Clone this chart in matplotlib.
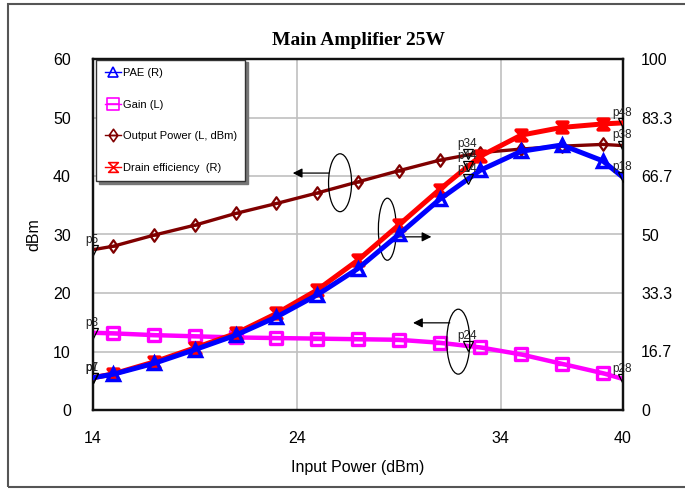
import matplotlib
matplotlib.use("Agg")
import matplotlib.pyplot as plt
from matplotlib.path import Path
from matplotlib.patches import Ellipse, Rectangle
from matplotlib.lines import Line2D

plt.rcParams['font.family'] = ['Liberation Sans', 'DejaVu Sans']

# ---- data ----
x_in = [14, 15, 17, 19, 21, 23, 25, 27, 29, 31, 33, 35, 37, 39, 40]
pout = [27.4, 28.0, 29.9, 31.6, 33.6, 35.3, 37.1, 39.0, 40.9, 42.7, 44.0, 44.6, 45.1, 45.4, 45.2]
gain = [13.2, 13.1, 12.8, 12.6, 12.4, 12.3, 12.2, 12.1, 12.0, 11.5, 10.7, 9.5, 7.9, 6.3, 5.3]
pae_pct = [9.2, 10.2, 13.3, 17.2, 21.3, 26.5, 32.8, 40.3, 50.0, 60.0, 68.3, 73.7, 75.5, 71.0, 66.3]
de_pct = [9.2, 10.3, 13.7, 17.7, 21.8, 27.5, 34.2, 42.7, 52.7, 62.8, 72.3, 78.3, 80.5, 81.5, 81.8]

mk_x = [14, 32.4, 40]
mk_pout = [27.4, 43.7, 45.2]
mk_gain = [13.2, 10.9, 5.3]
mk_pae = [9.2, 65.8, 66.3]
mk_de = [9.2, 69.5, 81.8]
lbl_pout = ["p5", "p34", "p38"]
lbl_gain = ["p3", "p24", "p28"]
lbl_pae = ["p7", "p14", "p18"]
lbl_de = ["p1", "p44", "p48"]

xticks = [14, 24, 34, 40]
yticks_l = [0, 10, 20, 30, 40, 50, 60]
yticks_r = [0, 16.7, 33.3, 50, 66.7, 83.3, 100]
yticklabels_r = ["0", "16.7", "33.3", "50", "66.7", "83.3", "100"]

# ---- custom markers ----
hourglass = Path([(-1, 1), (1, 1), (-1, -1), (1, -1), (-1, 1)],
                 [Path.MOVETO, Path.LINETO, Path.LINETO, Path.LINETO, Path.CLOSEPOLY])
sq_line = Path([(-1, -1), (1, -1), (1, 1), (-1, 1), (-1, -1), (-1, 0), (1, 0)],
               [Path.MOVETO, Path.LINETO, Path.LINETO, Path.LINETO, Path.CLOSEPOLY,
                Path.MOVETO, Path.LINETO])
dia_line = Path([(0, -1), (0.7, 0), (0, 1), (-0.7, 0), (0, -1), (-0.7, 0), (0.7, 0)],
                [Path.MOVETO, Path.LINETO, Path.LINETO, Path.LINETO, Path.CLOSEPOLY,
                 Path.MOVETO, Path.LINETO])

fig = plt.figure(figsize=(6.85, 4.9), dpi=100)
fig.add_artist(Rectangle((8 / 685, 3 / 490), 1.2, 483 / 490, transform=fig.transFigure,
                         fill=False, edgecolor='#555555', lw=1.5))

ax = fig.add_axes([93 / 685, 1 - 410 / 490, 530 / 685, 351 / 490])
ax2 = ax.twinx()

ax.set_xlim(14, 40)
ax.set_ylim(0, 60)
ax2.set_ylim(0, 100)
ax.set_xticks(xticks)
ax.set_yticks(yticks_l)
ax2.set_yticks(yticks_r)
ax2.set_yticklabels(yticklabels_r)
ax.grid(True, color='#c0c0c0', lw=1.2)
ax.set_axisbelow(True)
ax.tick_params(axis='both', length=0, labelsize=11.5)
ax.tick_params(axis='y', pad=16)
ax.tick_params(axis='x', pad=15)
ax2.tick_params(axis='y', length=0, labelsize=11.5, pad=13)
for a in (ax, ax2):
    for s in a.spines.values():
        s.set_color('#111111')
        s.set_linewidth(1.6)

ax.set_xlabel("Input Power (dBm)", fontsize=11.5, labelpad=10)
ax.set_ylabel("dBm", fontsize=11.5, labelpad=8)
ax.set_title("Main Amplifier 25W", fontsize=14, fontweight='bold',
             family='Liberation Serif', pad=10)

inner = slice(1, -1)
ax.plot(x_in, gain, color='#ff00ff', lw=3.2, marker=sq_line, ms=8.5, mew=2.4,
        mfc='none', markevery=inner, zorder=3)
ax.plot(x_in, pout, color='#800000', lw=2.4, marker=dia_line, ms=9, mew=1.6,
        mfc='none', markevery=inner, zorder=3)
ax2.plot(x_in, de_pct, color='#ff0000', lw=3.6, marker=hourglass, ms=7.5, mew=2.8,
         mfc='#ff0000', markevery=inner, zorder=3)
ax2.plot(x_in, pae_pct, color='#0000ff', lw=3.6, marker='^', ms=8, mew=2.5,
         mfc='none', markevery=inner, zorder=4)

# ADS-style markers
def add_markers(a, xs, ys, labels):
    a.plot(xs, ys, linestyle='none', marker='v', ms=7.5, mew=0.9,
           mfc='none', mec='black', zorder=6)
    for xv, yv, t in zip(xs, ys, labels):
        a.annotate(t, (xv, yv), xytext=(-1, 3), textcoords='offset points',
                   ha='center', va='bottom', fontsize=8.5, color='#222222', zorder=6)

add_markers(ax, mk_x, mk_pout, lbl_pout)
add_markers(ax, mk_x, mk_gain, lbl_gain)
add_markers(ax2, mk_x, mk_pae, lbl_pae)
add_markers(ax2, mk_x, mk_de, lbl_de)

# ellipses and arrows
for (cx, cy, w, h) in [(26.12, 38.85, 1.13, 9.9), (28.44, 30.9, 0.88, 10.6),
                       (31.92, 11.68, 1.13, 11.1)]:
    ax.add_patch(Ellipse((cx, cy), w, h, fill=False, edgecolor='black', lw=0.9, zorder=7))
for (x0, y0, x1) in [(25.58, 40.5, 23.8), (28.9, 29.6, 30.6), (31.5, 14.9, 29.7)]:
    ax.annotate("", xy=(x1, y0), xytext=(x0, y0),
                arrowprops=dict(arrowstyle='-|>', color='black', lw=0.9,
                                mutation_scale=14, shrinkA=0, shrinkB=0), zorder=7)

handles = [
    Line2D([], [], color='#0000ff', lw=1, marker='^', ms=7, mfc='none', mew=1.2),
    Line2D([], [], color='#ff00ff', lw=1, marker=sq_line, ms=8, mfc='none', mew=1.2),
    Line2D([], [], color='#800000', lw=1, marker=dia_line, ms=9, mfc='none', mew=1.2),
    Line2D([], [], color='#ff0000', lw=1, marker=hourglass, ms=7, mfc='none', mew=1.2),
]
labels = ["PAE (R)", "Gain (L)", "Output Power (L, dBm)", "Drain efficiency  (R)"]
leg = ax2.legend(handles, labels, loc='upper left', bbox_to_anchor=(0.006, 0.998),
                 fontsize=8, handlelength=1.5, handletextpad=0.15, labelspacing=1.95,
                 borderpad=0.75, fancybox=False, shadow={'color': '#777777', 'alpha': 1},
                 framealpha=1, edgecolor='#333333', borderaxespad=0)
leg.get_frame().set_linewidth(1.0)
leg.set_zorder(10)

fig.savefig("out.png", dpi=100)
